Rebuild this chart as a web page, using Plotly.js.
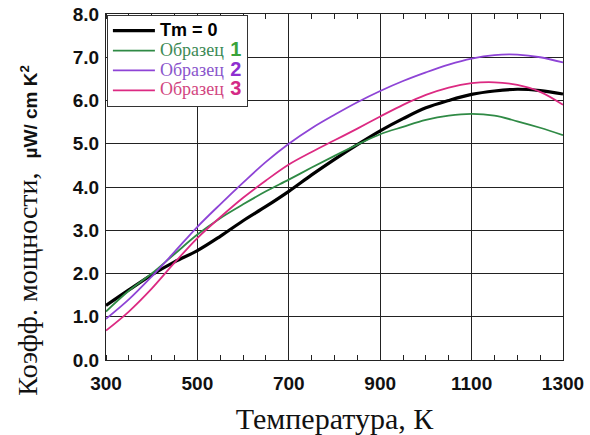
<!DOCTYPE html>
<html>
<head>
<meta charset="utf-8">
<script src="https://cdn.plot.ly/plotly-3.0.1.min.js"></script>
<style>html,body{margin:0;padding:0;background:#fff;}#chart{width:590px;height:435px;}</style>
</head>
<body>
<div id="chart"></div>
<script>
const temperature = [300,350,400,450,500,550,600,650,700,750,800,850,900,950,1000,1050,1100,1150,1200,1250,1300];
const tm0     = [1.26,1.62,1.97,2.27,2.53,2.86,3.22,3.55,3.90,4.28,4.64,4.98,5.30,5.58,5.83,6.00,6.14,6.22,6.26,6.23,6.15];
const sample1 = [1.12,1.60,2.00,2.45,2.90,3.28,3.60,3.90,4.17,4.45,4.72,4.98,5.22,5.39,5.55,5.65,5.69,5.65,5.52,5.37,5.20];
const sample2 = [0.95,1.40,1.93,2.50,3.08,3.60,4.10,4.58,5.00,5.36,5.67,5.96,6.22,6.45,6.65,6.83,6.97,7.05,7.06,7.00,6.88];
const sample3 = [0.68,1.12,1.65,2.25,2.82,3.30,3.75,4.15,4.52,4.81,5.08,5.35,5.63,5.90,6.13,6.30,6.40,6.42,6.36,6.20,5.90];
const xTicks = [300,500,700,900,1100,1300];
const yTicks = [0,1,2,3,4,5,6,7,8];
const xTitle = 'Температура, К';
const yTitleMain = 'Коэфф. мощности,';
const yTitleUnit = 'µW/ cm K<sup>2</sup>';

function lbl(word, num, cw, cn){
  return '<span style="color:'+cw+';font-size:18px">'+word+'</span>  '+
         '<span style="font-family:Liberation Sans, Arial, sans-serif;color:'+cn+';font-size:20px"><b>'+num+'</b></span>';
}

const traces = [
  {x: temperature, y: tm0, mode:'lines', line:{color:'#000000', width:3.2, shape:'spline'},
   name:'<span style="font-family:Liberation Sans, Arial, sans-serif;color:#000;font-size:18px"><b>Tm = 0</b></span>'},
  {x: temperature, y: sample1, mode:'lines', line:{color:'#2f8a45', width:1.8, shape:'spline'},
   name: lbl('Образец','1','#3d8a55','#3aa33a')},
  {x: temperature, y: sample2, mode:'lines', line:{color:'#8e44d6', width:1.8, shape:'spline'},
   name: lbl('Образец','2','#8a55cc','#8e2fd0')},
  {x: temperature, y: sample3, mode:'lines', line:{color:'#dc2a82', width:1.8, shape:'spline'},
   name: lbl('Образец','3','#d2467f','#d42a86')}
];

const layout = {
  width:590, height:435,
  margin:{l:106, r:27, t:14, b:75},
  paper_bgcolor:'#fff', plot_bgcolor:'#fff',
  showlegend:true,
  legend:{x:0.002, y:0.998, xanchor:'left', yanchor:'top', bgcolor:'#fff', bordercolor:'#333', borderwidth:1,
          font:{family:'Liberation Serif, Times New Roman, serif', size:13, color:'#000'}, tracegroupgap:0, itemwidth:42},
  xaxis:{range:[300,1300], tickvals:xTicks, ticktext:xTicks.map(String),
         showgrid:true, gridcolor:'#222', gridwidth:1,
         showline:true, linecolor:'#222', linewidth:1, mirror:'ticks',
         ticks:'', zeroline:false, ticklabelstandoff:6,
         minor:{dtick:50, tick0:300, ticks:'inside', ticklen:5, tickcolor:'#222', showgrid:false},
         tickfont:{family:'Liberation Sans, Arial, sans-serif', size:19, color:'#111', weight:'bold'},
         title:{text:xTitle, font:{family:'Liberation Serif, Times New Roman, serif', size:30, color:'#111'}, standoff:15}},
  yaxis:{range:[0,8], tickvals:yTicks, ticktext:yTicks.map(v=>v.toFixed(1)),
         showgrid:true, gridcolor:'#222', gridwidth:1,
         showline:true, linecolor:'#222', linewidth:1, mirror:true,
         ticks:'', zeroline:false, ticklabelstandoff:2,
         tickfont:{family:'Liberation Sans, Arial, sans-serif', size:19, color:'#111', weight:'bold'}},
  annotations:[{
    xref:'paper', yref:'paper', x:-0.172, y:0.375, xanchor:'center', yanchor:'middle', textangle:-90, showarrow:false,
    text: yTitleMain + '  <span style="font-family:Liberation Sans, Arial, sans-serif;font-size:19px"><b>'+yTitleUnit+'</b></span>',
    font:{family:'Liberation Serif, Times New Roman, serif', size:28, color:'#111'}
  }]
};

Plotly.newPlot('chart', traces, layout, {displayModeBar:false, staticPlot:true});
</script>
</body>
</html>
